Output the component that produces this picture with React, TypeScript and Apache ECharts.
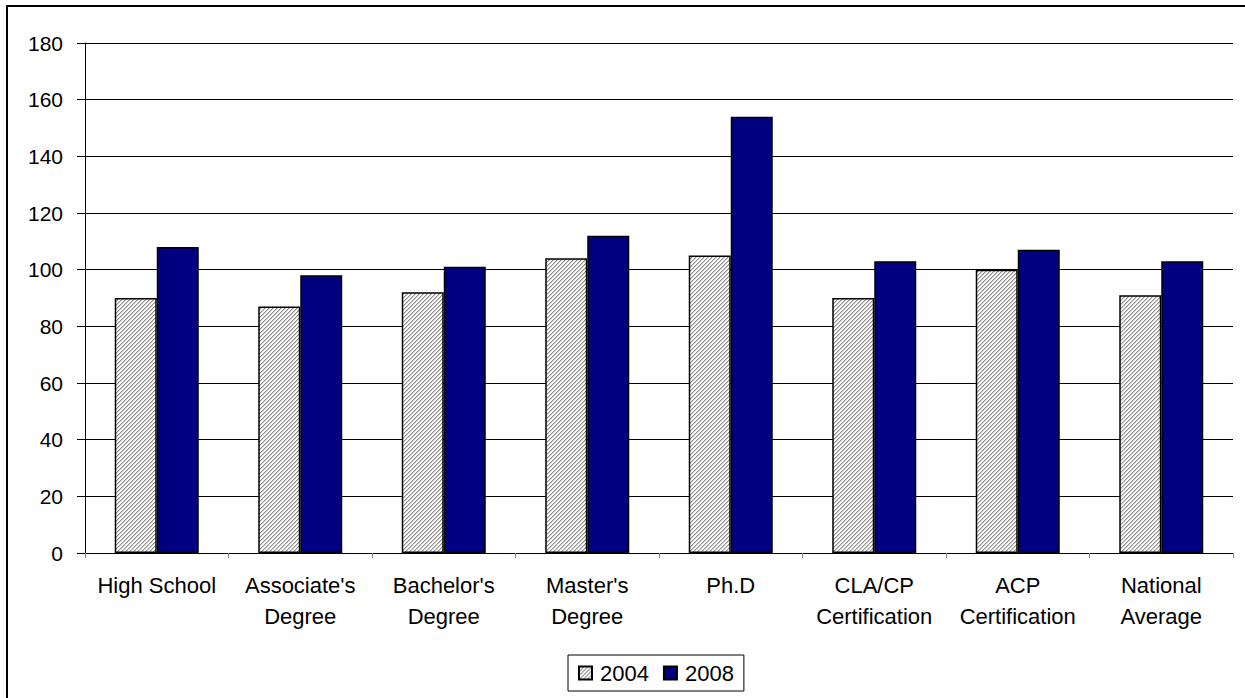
import React, { useEffect, useRef } from "react";
import * as echarts from "echarts";

const categories = [
  "High School",
  "Associate's\nDegree",
  "Bachelor's\nDegree",
  "Master's\nDegree",
  "Ph.D",
  "CLA/CP\nCertification",
  "ACP\nCertification",
  "National\nAverage",
];
const series2004 = [90, 87, 92, 104, 105, 90, 100, 91];
const series2008 = [108, 98, 101, 112, 154, 103, 107, 103];
const seriesNames = ["2004", "2008"];
const yTicks = { min: 0, max: 180, interval: 20 };

function makeHatch(): HTMLCanvasElement {
  const c = document.createElement("canvas");
  c.width = 4;
  c.height = 4;
  const ctx = c.getContext("2d")!;
  const img = ctx.createImageData(4, 4);
  for (let y = 0; y < 4; y++) {
    for (let x = 0; x < 4; x++) {
      const k = (x + y) % 4;
      let v = 255;
      if (k === 0) v = 140;
      else if (k === 1) v = 205;
      const i = (y * 4 + x) * 4;
      img.data[i] = v;
      img.data[i + 1] = v;
      img.data[i + 2] = v;
      img.data[i + 3] = 255;
    }
  }
  ctx.putImageData(img, 0, 0);
  return c;
}

export default function App() {
  const ref = useRef<HTMLDivElement>(null);
  useEffect(() => {
    if (!ref.current) return;
    const chart = echarts.init(ref.current, undefined, { renderer: "svg" });
    const font = "'Liberation Sans', Arial, sans-serif";
    const hatch = { image: makeHatch(), repeat: "repeat" } as any;
    chart.setOption({
      animation: false,
      backgroundColor: "#ffffff",
      textStyle: { fontFamily: font },
      grid: { left: 85, right: 12, top: 43, bottom: 145, containLabel: false },
      graphic: [
        {
          type: "polyline",
          silent: true,
          shape: { points: [[7, 698], [7, 6], [1245, 6]] },
          style: { stroke: "#000", lineWidth: 2, fill: "none" },
        },
      ],
      legend: {
        left: 568,
        top: 655,
        data: seriesNames,
        icon: "rect",
        itemWidth: 13,
        itemHeight: 13,
        itemGap: 14,
        borderColor: "#000",
        borderWidth: 1,
        padding: [7, 10, 7, 10],
        textStyle: { fontSize: 22, color: "#000", fontFamily: font, padding: [0, 0, 0, 3] },
      },
      xAxis: {
        type: "category",
        data: categories,
        boundaryGap: true,
        axisLine: { lineStyle: { color: "#000", width: 1 } },
        axisTick: { show: true, length: 5, lineStyle: { color: "#888" } },
        axisLabel: {
          interval: 0,
          fontSize: 22,
          color: "#000",
          lineHeight: 31,
          margin: 17,
          align: "center",
          fontFamily: font,
        },
        splitLine: { show: false },
      },
      yAxis: {
        type: "value",
        min: yTicks.min,
        max: yTicks.max,
        interval: yTicks.interval,
        axisLine: { show: true, lineStyle: { color: "#000", width: 1 } },
        axisTick: { show: true, length: 8, lineStyle: { color: "#000" } },
        axisLabel: { fontSize: 21, color: "#000", margin: 22, fontFamily: font },
        splitLine: { show: true, lineStyle: { color: "#000", width: 1 } },
      },
      series: [
        {
          name: seriesNames[0],
          type: "bar",
          data: series2004,
          barWidth: 42,
          barGap: "0%",
          itemStyle: { color: hatch, borderColor: "#000", borderWidth: 1.5 },
        },
        {
          name: seriesNames[1],
          type: "bar",
          data: series2008,
          barWidth: 42,
          barGap: "0%",
          itemStyle: { color: "#000080", borderColor: "#000", borderWidth: 1.5 },
        },
      ],
    });
    return () => chart.dispose();
  }, []);
  return (
    <div
      ref={ref}
      style={{ position: "fixed", left: 0, top: 0, width: 1245, height: 698 }}
    />
  );
}
